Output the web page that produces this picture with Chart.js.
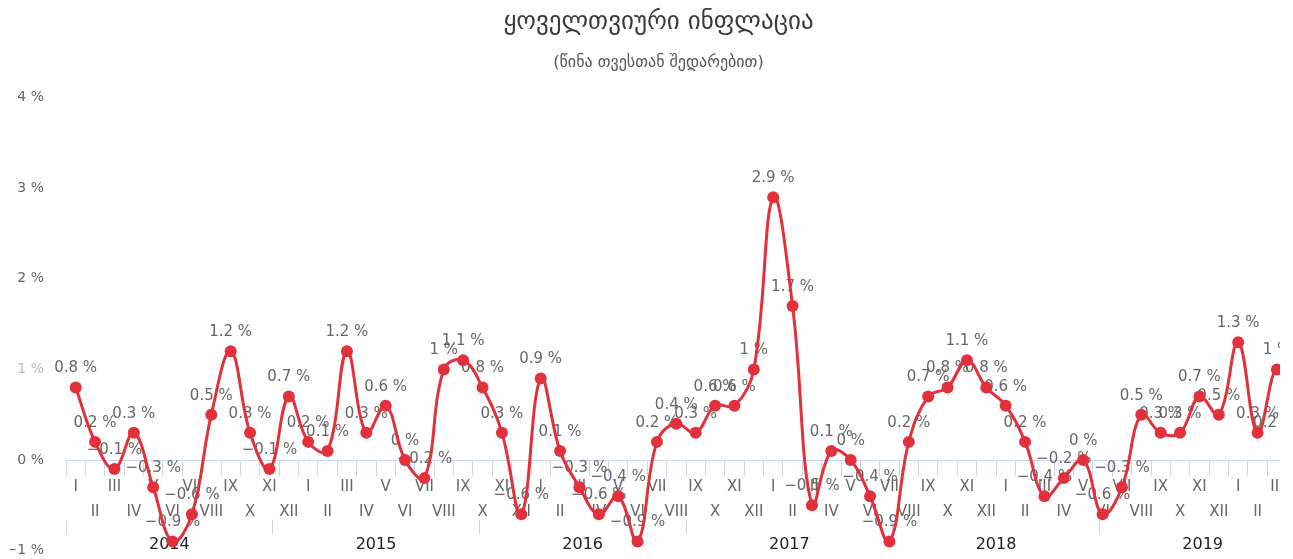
<!DOCTYPE html>
<html><head><meta charset="utf-8">
<style>
html,body{margin:0;padding:0;overflow:hidden;background:#fff;width:1293px;height:559px}
#wrap{width:1280px;height:559px;position:relative;overflow:hidden}
canvas{display:block}
</style>
<script src="https://cdn.jsdelivr.net/npm/chart.js@4/dist/chart.umd.min.js"></script>
</head><body><div id="wrap"><canvas id="c" width="1312" height="559"></canvas></div>
<script>
const titleText = 'ყოველთვიური ინფლაცია';
const subtitleText = '(წინა თვესთან შედარებით)';
const months = ['I','II','III','IV','V','VI','VII','VIII','IX','X','XI','XII'];
const years = ['2014','2015','2016','2017','2018','2019'];
const inflation2014 = [0.8, 0.2, -0.1, 0.3, -0.3, -0.9, -0.6, 0.5, 1.2, 0.3, -0.1, 0.7];
const inflation2015 = [0.2, 0.1, 1.2, 0.3, 0.6, 0, -0.2, 1, 1.1, 0.8, 0.3, -0.6];
const inflation2016 = [0.9, 0.1, -0.3, -0.6, -0.4, -0.9, 0.2, 0.4, 0.3, 0.6, 0.6, 1];
const inflation2017 = [2.9, 1.7, -0.5, 0.1, 0, -0.4, -0.9, 0.2, 0.7, 0.8, 1.1, 0.8];
const inflation2018 = [0.6, 0.2, -0.4, -0.2, 0, -0.6, -0.3, 0.5, 0.3, 0.3, 0.7, 0.5];
const inflation2019 = [1.3, 0.3, 1, 0.2];
const yTicks = [-1, 0, 1, 2, 3, 4];

const inflation = [].concat(inflation2014, inflation2015, inflation2016, inflation2017, inflation2018, inflation2019);
const categories = inflation.map((_, i) => months[i % 12]);

const FONT = "'DejaVu Sans', Verdana, sans-serif";
const fmt = v => (v < 0 ? '\u2212' : '') + Math.abs(v) + ' %';
const RED = '#e2313c';

const labelPlugin = {
  id: 'pointLabels',
  beforeDatasetsDraw(chart) {
    const ctx = chart.ctx;
    const meta = chart.getDatasetMeta(0);
    const rightLimit = chart.chartArea.right - 10;
    ctx.save();
    ctx.font = '15px ' + FONT;
    ctx.fillStyle = '#666666';
    ctx.textAlign = 'center';
    ctx.textBaseline = 'middle';
    meta.data.forEach((el, i) => {
      const txt = fmt(inflation[i]);
      const half = ctx.measureText(txt).width / 2;
      const x = Math.min(el.x, rightLimit - half);
      ctx.fillText(txt, x, el.y - 19);
    });
    ctx.restore();
  }
};

new Chart(document.getElementById('c'), {
  type: 'line',
  data: {
    labels: categories,
    datasets: [{
      data: inflation,
      borderColor: RED,
      backgroundColor: RED,
      borderWidth: 3,
      tension: 0.4,
      pointRadius: 6,
      pointHoverRadius: 6,
      pointBackgroundColor: RED,
      pointBorderWidth: 0,
      fill: false
    }]
  },
  options: {
    responsive: false,
    animation: false,
    events: [],
    layout: { padding: { left: 10, right: 5, top: 0, bottom: 8 } },
    plugins: {
      legend: { display: false },
      tooltip: { enabled: false },
      title: {
        display: true, text: titleText, color: '#3a3a3a',
        font: { family: FONT, size: 25, weight: 'normal', lineHeight: 1.2 },
        padding: { top: 7, bottom: 16 }
      },
      subtitle: {
        display: true, text: subtitleText, color: '#555555',
        font: { family: FONT, size: 16, weight: 'normal', lineHeight: 1.2 },
        padding: { top: 0, bottom: 25.4 }
      }
    },
    scales: {
      y: {
        min: yTicks[0], max: yTicks[yTicks.length - 1],
        afterFit: s => { s.width = 56; },
        afterBuildTicks: s => { s.ticks = yTicks.map(v => ({ value: v })); },
        grid: { display: true, drawOnChartArea: false, drawTicks: true, tickLength: 22, color: 'rgba(0,0,0,0)' },
        border: { display: false },
        ticks: {
          padding: 0,
          color: c => c.tick && c.tick.value === 1 ? '#bbbbbb' : '#666666',
          font: { family: FONT, size: 14 },
          callback: v => fmt(v)
        }
      },
      x: {
        type: 'category',
        position: { y: 0 },
        offset: true,
        grid: { offset: true, drawOnChartArea: false, drawTicks: true, tickLength: 15, color: '#ccd6eb', lineWidth: 1 },
        border: { display: true, color: '#ccd6eb', width: 1 },
        ticks: {
          autoSkip: false, maxRotation: 0, minRotation: 0, padding: 0,
          color: '#666666',
          font: { family: FONT, size: 15, lineHeight: '25px' },
          callback: function (value, index) {
            const lab = this.getLabelForValue(value);
            return index % 2 === 0 ? lab : ['', lab];
          }
        }
      },
      x2: {
        type: 'linear',
        axis: 'x',
        position: { y: -0.663 },
        min: 0, max: years.length,
        afterBuildTicks: s => {
          const t = [];
          for (let i = 0; i <= years.length * 2; i++) t.push({ value: i / 2 });
          s.ticks = t;
        },
        grid: {
          drawOnChartArea: false, drawTicks: true, tickLength: 14, lineWidth: 1,
          color: c => (c.tick && Number.isInteger(c.tick.value)) ? '#ccd6eb' : 'rgba(0,0,0,0)'
        },
        border: { display: false },
        ticks: {
          autoSkip: false, maxRotation: 0, minRotation: 0, padding: 1,
          color: '#222222',
          font: { family: FONT, size: 16, lineHeight: 1.2 },
          callback: v => Number.isInteger(v) ? '' : years[Math.floor(v)]
        }
      }
    }
  },
  plugins: [labelPlugin]
});
</script>
</body></html>
